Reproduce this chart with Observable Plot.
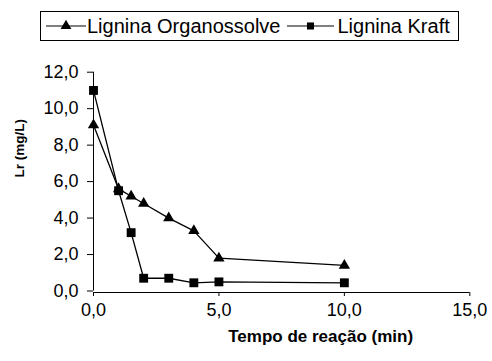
<!DOCTYPE html>
<html>
<head>
<meta charset="utf-8">
<script src="https://cdn.jsdelivr.net/npm/d3@7"></script>
<script src="https://cdn.jsdelivr.net/npm/@observablehq/plot@0.6"></script>
<style>
  html, body { margin: 0; padding: 0; background: #fff; }
  #wrap { width: 492px; height: 361px; position: relative; overflow: hidden; font-family: "Liberation Sans", Arial, sans-serif; }
  #legend { position: relative; width: 492px; height: 50px; }
  #legend .box { position: absolute; left: 40px; top: 11px; width: 419px; height: 30px; box-sizing: border-box;
    border: 1px solid #000; display: flex; align-items: center; font-size: 20px; color: #000; white-space: nowrap; }
  #legend svg { display: block; }
</style>
</head>
<body>
<div id="wrap">
  <div id="legend"><div class="box" id="legendBox"></div></div>
  <div id="chart"></div>
</div>
<script>
// ---- data ----
const tempo = [0, 1, 1.5, 2, 3, 4, 5, 10];
const organossolve = [9.1, 5.6, 5.2, 4.8, 4.0, 3.3, 1.8, 1.4];
const kraft = [11.0, 5.5, 3.2, 0.7, 0.7, 0.45, 0.5, 0.45];
const seriesNames = ["Lignina Organossolve", "Lignina Kraft"];
const xTicks = [0, 5, 10, 15];
const yTicks = [0, 2, 4, 6, 8, 10, 12];
const xTitle = "Tempo de reação (min)";
const yTitle = "Lr (mg/L)";

const fmt = d => d.toFixed(1).replace(".", ",");
const orgRows = tempo.map((t, i) => ({t, v: organossolve[i]}));
const kraftRows = tempo.map((t, i) => ({t, v: kraft[i]}));

// ---- legend ----
const box = document.getElementById("legendBox");
function legendItem(symbol, name, padLeft, svgW, textGap) {
  const ns = "http://www.w3.org/2000/svg";
  const s = document.createElementNS(ns, "svg");
  s.setAttribute("width", svgW); s.setAttribute("height", 14);
  s.style.marginLeft = padLeft + "px";
  const l = document.createElementNS(ns, "line");
  l.setAttribute("x1", 0); l.setAttribute("x2", svgW); l.setAttribute("y1", 7); l.setAttribute("y2", 7);
  l.setAttribute("stroke", "#000"); l.setAttribute("stroke-width", 1.2);
  s.appendChild(l);
  const p = document.createElementNS(ns, "path");
  p.setAttribute("d", d3.symbol(symbol, 50)());
  p.setAttribute("transform", `translate(${svgW / 2},7)`);
  p.setAttribute("fill", "#000");
  s.appendChild(p);
  box.appendChild(s);
  const sp = document.createElement("span");
  sp.textContent = name;
  sp.style.marginLeft = textGap + "px";
  box.appendChild(sp);
}
legendItem(d3.symbolTriangle, seriesNames[0], 5, 40, 1);
legendItem(d3.symbolSquare, seriesNames[1], 7, 47, 3);

// ---- chart ----
const chart = Plot.plot({
  width: 492,
  height: 311,
  marginTop: 21.7,
  marginBottom: 70.5,
  marginLeft: 93,
  marginRight: 22.7,
  x: {domain: [0, 15], label: null},
  y: {domain: [0, 12], label: null},
  style: {fontFamily: "Liberation Sans, Arial, sans-serif", fontSize: "18px", color: "#000", background: "#fff"},
  marks: [
    Plot.ruleX([0], {stroke: "#000", strokeWidth: 1}),
    Plot.ruleY([0], {stroke: "#000", strokeWidth: 1, dy: 1.5}),
    Plot.axisY({ticks: yTicks, tickFormat: fmt, tickSize: 6, tickPadding: 9, label: null, stroke: "#000", fill: "#000"}),
    Plot.axisX({ticks: xTicks, tickFormat: fmt, tickSize: 4, tickPadding: 7, label: null, stroke: "#000", fill: "#000", dy: 1.5}),
    Plot.text([yTitle], {frameAnchor: "left", rotate: -90, dx: -74, dy: -4, fontSize: 13.5, fontWeight: "bold", fill: "#000", letterSpacing: "0.3px"}),
    Plot.text([xTitle], {frameAnchor: "bottom", lineAnchor: "middle", dx: 39, dy: 45.5, fontSize: 17, fontWeight: "bold", fill: "#000", letterSpacing: "1.5px"}),
    Plot.line(orgRows, {x: "t", y: "v", stroke: "#000", strokeWidth: 1.3}),
    Plot.dot(orgRows, {x: "t", y: "v", symbol: "triangle", r: 4.2, fill: "#000", stroke: "none"}),
    Plot.line(kraftRows, {x: "t", y: "v", stroke: "#000", strokeWidth: 1.3}),
    Plot.dot(kraftRows, {x: "t", y: "v", symbol: "square", r: 5, fill: "#000", stroke: "none"})
  ]
});
document.getElementById("chart").appendChild(chart);
</script>
</body>
</html>
